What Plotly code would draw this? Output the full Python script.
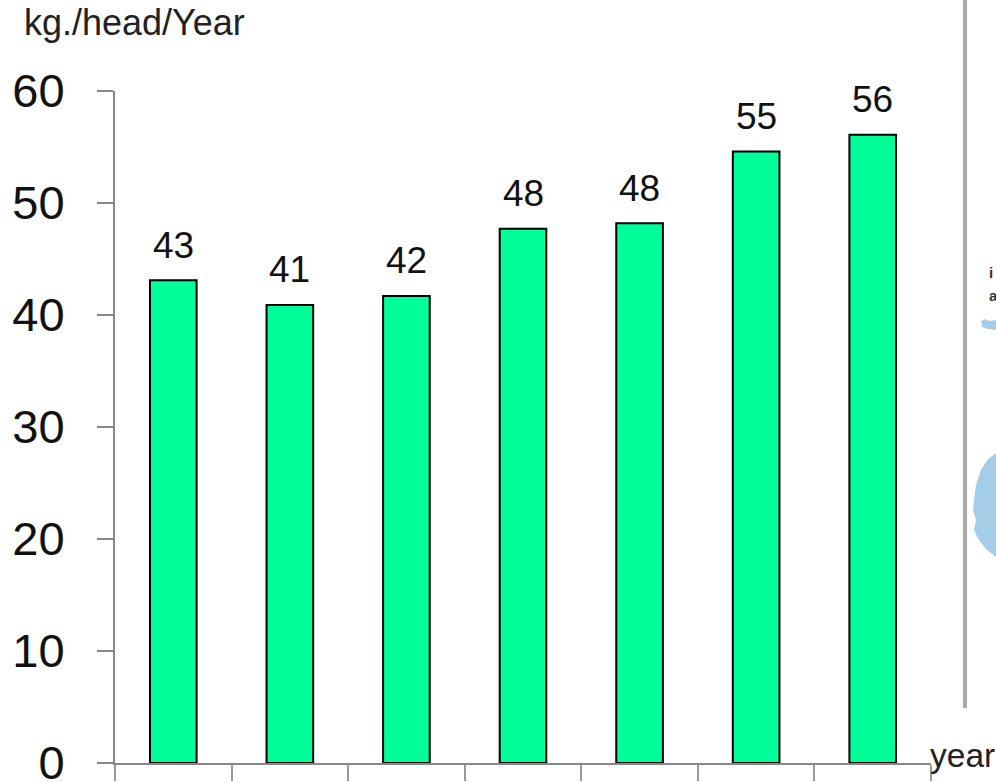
import plotly.graph_objects as go

categories = ["1", "2", "3", "4", "5", "6", "7"]
values = [43.1, 40.9, 41.7, 47.7, 48.2, 54.6, 56.1]
labels = ["43", "41", "42", "48", "48", "55", "56"]
y_ticks = [0, 10, 20, 30, 40, 50, 60]

W, H = 996, 782
L, R, T, B = 115, 931, 91, 763
FONT = "Liberation Sans, Arial, sans-serif"
AXIS = "#888888"


def px(x):
    return (x - L) / (R - L)


def py(y):
    return (B - y) / (B - T)


def path(points):
    return "M " + " L ".join(f"{px(x):.4f},{py(y):.4f}" for x, y in points) + " Z"


fig = go.Figure(
    go.Bar(
        x=categories,
        y=values,
        width=0.4,
        marker=dict(color="#00FF99", line=dict(color="#000000", width=2)),
        hoverinfo="skip",
    )
)

annotations = [
    dict(x=i, y=v, xref="x", yref="y", text=t, showarrow=False, yshift=35,
         yanchor="middle", font=dict(size=37, color="#111111", family=FONT))
    for i, (v, t) in enumerate(zip(values, labels))
]
for text, x, y, size in [("kg./head/Year", 23, 23, 36), ("year", 929, 755, 33.5)]:
    annotations.append(
        dict(x=px(x), y=py(y), xref="paper", yref="paper", text=text, showarrow=False,
             xanchor="left", yanchor="middle", xshift=-1,
             font=dict(size=size, color="#222222", family=FONT))
    )
for text, y in [("i", 272), ("a", 295)]:
    annotations.append(
        dict(x=px(987), y=py(y), xref="paper", yref="paper", text=f"<b>{text}</b>", showarrow=False,
             xanchor="left", yanchor="middle",
             font=dict(size=15, color="#333333", family=FONT))
    )

blob_small = [(981, 321), (985, 319), (989, 321), (996, 320), (996, 330), (988, 329), (982, 327)]
blob_large = [(996, 453), (988, 459), (981, 470), (976, 485), (974, 500), (973, 510), (976, 520),
              (974, 530), (979, 540), (986, 549), (996, 557)]
shapes = [
    dict(type="rect", xref="paper", yref="paper", x0=px(963), x1=px(967), y0=py(708), y1=py(-5),
         fillcolor="#AAAAAA", line=dict(width=0), layer="below"),
    dict(type="path", xref="paper", yref="paper", path=path(blob_small),
         fillcolor="#A3CDE8", line=dict(width=0), layer="below"),
    dict(type="path", xref="paper", yref="paper", path=path(blob_large),
         fillcolor="#A3CDE8", line=dict(width=0), layer="below"),
]

fig.update_layout(
    width=W,
    height=H,
    margin=dict(l=L, r=W - R, t=T, b=H - B, autoexpand=False),
    paper_bgcolor="white",
    plot_bgcolor="white",
    showlegend=False,
    annotations=annotations,
    shapes=shapes,
    xaxis=dict(
        type="category", categoryorder="array", categoryarray=categories,
        range=[-0.5, 6.5],
        tickson="boundaries", ticks="outside", ticklen=16, tickwidth=2, tickcolor="#999999",
        showticklabels=False, showgrid=False, zeroline=False,
        showline=True, linecolor=AXIS, linewidth=2,
    ),
    yaxis=dict(
        range=[0, 60], tickmode="array", tickvals=y_ticks, ticktext=[str(v) for v in y_ticks],
        ticks="outside", ticklen=16, tickwidth=2, tickcolor=AXIS,
        tickfont=dict(size=47, color="#111111", family=FONT), ticklabelstandoff=23,
        ticklabeloverflow="allow",
        showgrid=False, zeroline=False, showline=True, linecolor=AXIS, linewidth=2,
    ),
)

fig.write_html("out.html", config={"displayModeBar": False},
               post_script="document.body.style.margin='0';")
